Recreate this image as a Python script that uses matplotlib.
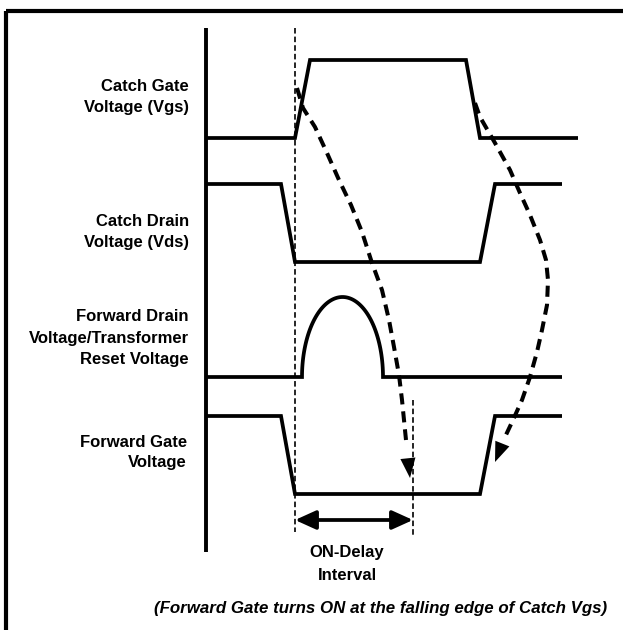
import numpy as np
import matplotlib
matplotlib.use('Agg')
import matplotlib.pyplot as plt
from matplotlib.patches import FancyArrowPatch

plt.rcParams['font.family'] = ['Liberation Sans', 'DejaVu Sans']
plt.rcParams['lines.scale_dashes'] = False

# waveforms, (x, y) in picture pixels (y down)
catch_vgs_x = [206, 295, 310, 466, 480, 578]
catch_vgs_y = [138, 138, 60, 60, 138, 138]

catch_vds_x = [206, 281, 295, 480, 495, 562]
catch_vds_y = [184, 184, 262, 262, 184, 184]

fwd_gate_x = [206, 281, 295, 480, 495, 562]
fwd_gate_y = [416, 416, 494, 494, 416, 416]

# forward drain: flat, half-ellipse bump, flat
fwd_drain_base = 377
fwd_drain_flat1 = [206, 302]
fwd_drain_bump = [302, 383]     # start / end of bump
fwd_drain_peak = 297
fwd_drain_flat2 = [383, 562]

# dashed causality curves (thick dashes), last point = arrow tip
curve1_x = [297, 303, 315, 327, 339, 351, 362, 372, 382, 389, 394, 399, 402, 406, 410]
curve1_y = [88, 108, 127, 153, 180, 205, 232, 263, 290, 320, 347, 375, 400, 440, 478]
curve2_x = [475, 480, 495, 510, 520, 530, 540, 546, 548, 547, 542, 537, 530, 522, 513, 505, 495]
curve2_y = [103, 117, 143, 170, 193, 215, 240, 260, 280, 305, 330, 352, 377, 400, 420, 437, 462]

# thin dashed markers
mark1_x, mark1_y = 295, [28, 532]
mark2_x, mark2_y = 413, [400, 535]
delay_y = 520

labels = [
    (["Catch Gate", "Voltage (Vgs)"], 189, [91, 112]),
    (["Catch Drain", "Voltage (Vds)"], 189, [226, 247]),
    (["Forward Drain", "Voltage/Transformer", "Reset Voltage"], 189, [321, 343, 364]),
    (["Forward Gate", "Voltage"], 187, [447, 467]),
]
delay_text = ["ON-Delay", "Interval"]
caption = "(Forward Gate turns ON at the falling edge of Catch Vgs)"

fig = plt.figure(figsize=(6.23, 6.30), dpi=100)
ax = fig.add_axes([0, 0, 1, 1])
ax.set_xlim(0, 623)
ax.set_ylim(630, 0)
ax.axis('off')

# frame (top and left only)
ax.plot([6, 623], [11, 11], color='black', lw=3, solid_capstyle='butt')
ax.plot([6, 6], [11, 630], color='black', lw=3, solid_capstyle='butt')

# vertical axis
ax.plot([206, 206], [28, 552], color='black', lw=2.8, solid_capstyle='butt')

sig = dict(color='black', lw=2.7, solid_joinstyle='miter', solid_capstyle='butt')
ax.plot(catch_vgs_x, catch_vgs_y, **sig)
ax.plot(catch_vds_x, catch_vds_y, **sig)
ax.plot(fwd_gate_x, fwd_gate_y, **sig)

t = np.linspace(np.pi, 0, 80)
cx = (fwd_drain_bump[0] + fwd_drain_bump[1]) / 2
rx = (fwd_drain_bump[1] - fwd_drain_bump[0]) / 2
ry = fwd_drain_base - fwd_drain_peak
bx = np.concatenate([fwd_drain_flat1, cx + rx * np.cos(t), fwd_drain_flat2])
by = np.concatenate([[fwd_drain_base] * 2, fwd_drain_base - ry * np.sin(t), [fwd_drain_base] * 2])
ax.plot(bx, by, **sig)

# thin dashed vertical markers
thin = dict(color='black', lw=1.2, dashes=(4, 2.2))
ax.plot([mark1_x, mark1_x], mark1_y, **thin)
ax.plot([mark2_x, mark2_x], mark2_y, **thin)

# thick dashed curves with arrow heads
for cxs, cys in [(curve1_x, curve1_y), (curve2_x, curve2_y)]:
    ax.plot(cxs[:-1], cys[:-1], color='black', lw=2.9, dashes=(8, 5))
    dx, dy = cxs[-1] - cxs[-2], cys[-1] - cys[-2]
    n = np.hypot(dx, dy)
    start = (cxs[-1] - dx / n * 24, cys[-1] - dy / n * 24)
    ax.add_patch(FancyArrowPatch(start, (cxs[-1], cys[-1]),
                                 arrowstyle='-|>,head_length=0.42,head_width=0.16',
                                 mutation_scale=34, color='black', lw=0,
                                 shrinkA=0, shrinkB=0))

# ON-delay double arrow
ax.add_patch(FancyArrowPatch((mark1_x, delay_y), (mark2_x, delay_y),
                             arrowstyle='<|-|>,head_length=0.42,head_width=0.19',
                             mutation_scale=30, color='black', lw=2.7,
                             shrinkA=0, shrinkB=0))

for lines, xr, ys in labels:
    for s, y in zip(lines, ys):
        ax.text(xr, y, s, ha='right', va='baseline', fontsize=12, fontweight='bold')

for s, y in zip(delay_text, [557, 580]):
    ax.text(347, y, s, ha='center', va='baseline', fontsize=12, fontweight='bold')

ax.text(381, 613, caption, ha='center', va='baseline', fontsize=12.2,
        fontweight='bold', fontstyle='italic')

fig.savefig('out.png', dpi=100, facecolor='white')
